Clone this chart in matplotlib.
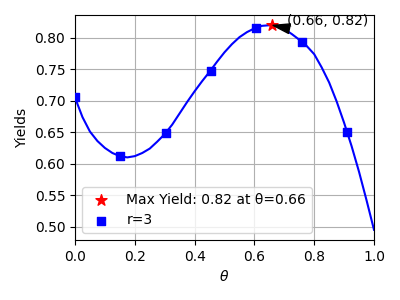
import matplotlib
matplotlib.use("Agg")
import matplotlib.pyplot as plt

# smooth curve
curve_x = [0.000, 0.025, 0.050, 0.075, 0.100, 0.125, 0.150, 0.175, 0.200, 0.225,
           0.250, 0.275, 0.300, 0.325, 0.350, 0.375, 0.400, 0.425, 0.450, 0.475,
           0.500, 0.525, 0.550, 0.575, 0.600, 0.625, 0.650, 0.675, 0.700, 0.725,
           0.750, 0.775, 0.800, 0.825, 0.850, 0.875, 0.900, 0.925, 0.950, 0.975, 1.000]
curve_y = [0.705, 0.674, 0.651, 0.636, 0.625, 0.617, 0.612, 0.610, 0.612, 0.617,
           0.624, 0.635, 0.647, 0.662, 0.680, 0.698, 0.715, 0.731, 0.746, 0.762,
           0.777, 0.790, 0.801, 0.809, 0.815, 0.819, 0.820, 0.819, 0.814, 0.806,
           0.797, 0.787, 0.774, 0.753, 0.729, 0.699, 0.665, 0.628, 0.587, 0.542, 0.495]

# sample points
pts_x = [0, 0.152, 0.303, 0.455, 0.606, 0.758, 0.909]
pts_y = [0.706, 0.612, 0.649, 0.747, 0.815, 0.794, 0.651]

max_x = 0.66
max_y = 0.82

fig = plt.figure(figsize=(4, 3), dpi=100)
ax = fig.add_axes([0.1875, 0.2, 0.7475, 0.75])
ax.plot(curve_x, curve_y, color='blue', lw=1.5)
ax.scatter([max_x], [max_y], marker='*', color='red', s=70, zorder=3,
           label=f'Max Yield: {max_y:.2f} at θ={max_x:.2f}')
ax.scatter(pts_x, pts_y, marker='s', color='blue', s=36, zorder=3, label='r=3')
ax.annotate(f'({max_x:.2f}, {max_y:.2f})', xy=(max_x, max_y), xytext=(0.71, 0.82),
            arrowprops=dict(facecolor='black', shrink=0.05, width=2, headwidth=7))
ax.set_xlim(0, 1)
ax.set_xlabel(r'$\theta$')
ax.set_ylabel('Yields')
ax.grid(True)
ax.legend(loc='lower left')
fig.savefig('out.png')
